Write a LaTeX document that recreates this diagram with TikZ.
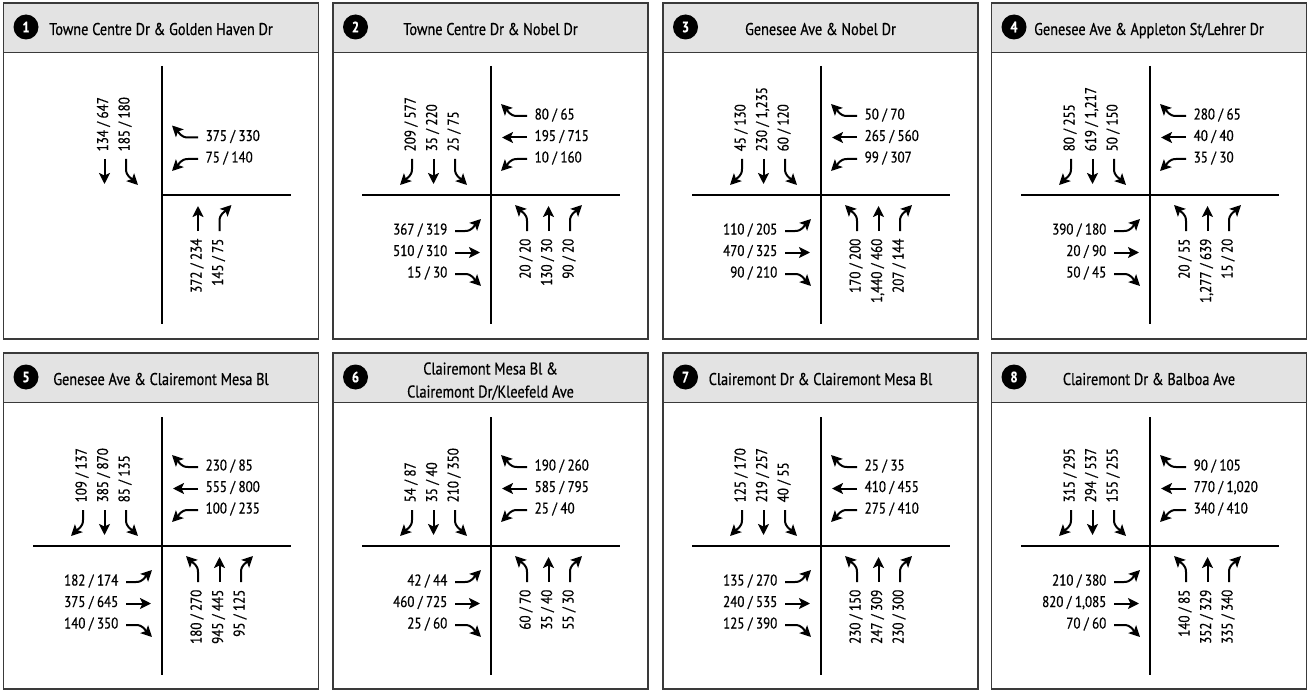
\documentclass[tikz,border=0pt]{standalone}
\usepackage{fontspec}
\setmainfont{PT Sans}[FakeStretch=0.84,FakeBold=0.6]
\usetikzlibrary{arrows.meta}
\definecolor{hdrgray}{HTML}{E3E3E3}
\definecolor{frmgray}{HTML}{3A3A3A}
\tikzset{
  hdr/.style={fill=hdrgray},
  frm/.style={draw=frmgray,line width=1.2pt},
  road/.style={draw=black,line width=1.3pt},
  arr/.style={draw=black,line width=2pt,-{Stealth[length=11pt,width=11pt,inset=2.5pt]}},
  lbl/.style={font=\fontsize{15.5}{16}\selectfont,inner sep=0pt,text height=0.7em,text depth=0pt},
  ttl/.style={font=\fontsize{17}{20}\selectfont,inner sep=0pt,anchor=base},
  badge/.style={circle,fill=black,text=white,inner sep=0pt,minimum size=25pt,font=\fontsize{15}{15}\bfseries\selectfont}
}
% movements in the southbound frame, rotated for other approaches
\newcommand\mT[2]{\draw[arr,rotate=#1] (-#2,36) -- (-#2,11);}
\newcommand\mR[2]{\draw[arr,rotate=#1] (-#2,36) -- (-#2,26) .. controls (-#2,19) and (-#2-5,17) .. (-#2-12,10);}
\newcommand\mL[2]{\draw[arr,rotate=#1] (-#2,36) -- (-#2,26) .. controls (-#2,19) and (-#2+5,17) .. (-#2+12,10);}
% labels: #1 index, #2 slot, #3 text
\newcommand\lblS[3]{\node[lbl,rotate=90,anchor=west] (\pn S#1) at (-#2,43.5) {#3};}
\newcommand\lblN[3]{\node[lbl,rotate=90,anchor=east] (\pn N#1) at (#2,-43.5) {#3};}
\newcommand\lblE[3]{\node[lbl,anchor=east] (\pn E#1) at (-43.5,-#2) {#3};}
\newcommand\lblW[3]{\node[lbl,anchor=west] (\pn W#1) at (43.5,#2) {#3};}
% approaches: S and W take (right, through, left); E and N take (left, through, right)
\newcommand\apS[3]{\mR{0}{79}\mT{0}{57.5}\mL{0}{36}\lblS{3}{79}{#1}\lblS{2}{57.5}{#2}\lblS{1}{36}{#3}}
\newcommand\apW[3]{\mR{-90}{79}\mT{-90}{57.5}\mL{-90}{36}\lblW{3}{79}{#1}\lblW{2}{57.5}{#2}\lblW{1}{36}{#3}}
\newcommand\apE[3]{\mL{90}{36}\mT{90}{57.5}\mR{90}{79}\lblE{1}{36}{#1}\lblE{2}{57.5}{#2}\lblE{3}{79}{#3}}
\newcommand\apN[3]{\mL{180}{36}\mT{180}{57.5}\mR{180}{79}\lblN{1}{36}{#1}\lblN{2}{57.5}{#2}\lblN{3}{79}{#3}}
% panel frame: #1 name, #2 left, #3 top, #4 title, #5 number
\newcommand\pframe[5]{%
  \path[hdr] (#2,-#3) rectangle ++(315,-49.5);
  \draw[frm] (#2,-#3-49.5) -- ++(315,0);
  \draw[frm] (#2,-#3) rectangle ++(315,-336);
  \node[badge] (#1b) at (#2+22.5,-#3-24) {#5};
  \node[ttl] (#1t) at (#2+157.5,-#3-32) {#4};
}
\newcommand\cross{\draw[road] (0,129) -- (0,-129); \draw[road] (-129,0) -- (129,0);}
\begin{document}
\begin{tikzpicture}[x=1pt,y=1pt]
\useasboundingbox (0,0) rectangle (1307,-698);
\fill[white] (0,0) rectangle (1307,-698);

% ---------- row 1 ----------
\pframe{p1}{3.5}{3}{Towne Centre Dr \& Golden Haven Dr}{1}
\pframe{p2}{333}{3}{Towne Centre Dr \& Nobel Dr}{2}
\pframe{p3}{663}{3}{Genesee Ave \& Nobel Dr}{3}
\pframe{p4}{991.5}{3}{Genesee Ave \& Appleton St/Lehrer Dr}{4}
% ---------- row 2 ----------
\pframe{p5}{3.5}{353}{Genesee Ave \& Clairemont Mesa Bl}{5}
\pframe{p6}{333}{353}{}{6}
\node[ttl] (p6ta) at (333+157.5,-353-21.5) {Clairemont Mesa Bl \&};
\node[ttl] (p6tb) at (333+157.5,-353-44.5) {Clairemont Dr/Kleefeld Ave};
\pframe{p7}{663}{353}{Clairemont Dr \& Clairemont Mesa Bl}{7}
\pframe{p8}{991.5}{353}{Clairemont Dr \& Balboa Ave}{8}

% ---------- 1 ----------
\begin{scope}[shift={(162,-195)}]\def\pn{p1}
  \draw[road] (0,129) -- (0,-129); \draw[road] (0,0) -- (129,0);
  \mT{0}{57.5}\mL{0}{36}\lblS{2}{57.5}{134 / 647}\lblS{1}{36}{185 / 180}
  \mR{-90}{57.5}\mL{-90}{36}\lblW{2}{57.5}{375 / 330}\lblW{1}{36}{75 / 140}
  \mT{180}{36}\mR{180}{57.5}\lblN{1}{36}{372 / 234}\lblN{2}{57.5}{145 / 75}
\end{scope}
% ---------- 2 ----------
\begin{scope}[shift={(491,-195)}]\def\pn{p2}
  \cross
  \apS{209 / 577}{35 / 220}{25 / 75}
  \apW{80 / 65}{195 / 715}{10 / 160}
  \apE{367 / 319}{510 / 310}{15 / 30}
  \apN{20 / 20}{130 / 30}{90 / 20}
\end{scope}
% ---------- 3 ----------
\begin{scope}[shift={(821,-195)}]\def\pn{p3}
  \cross
  \apS{45 / 130}{230 / 1,235}{60 / 120}
  \apW{50 / 70}{265 / 560}{99 / 307}
  \apE{110 / 205}{470 / 325}{90 / 210}
  \apN{170 / 200}{1,440 / 460}{207 / 144}
\end{scope}
% ---------- 4 ----------
\begin{scope}[shift={(1150,-195)}]\def\pn{p4}
  \cross
  \apS{80 / 255}{619 / 1,217}{50 / 150}
  \apW{280 / 65}{40 / 40}{35 / 30}
  \apE{390 / 180}{20 / 90}{50 / 45}
  \apN{20 / 55}{1,277 / 639}{15 / 20}
\end{scope}
% ---------- 5 ----------
\begin{scope}[shift={(162,-546)}]\def\pn{p5}
  \cross
  \apS{109 / 137}{385 / 870}{85 / 135}
  \apW{230 / 85}{555 / 800}{100 / 235}
  \apE{182 / 174}{375 / 645}{140 / 350}
  \apN{180 / 270}{945 / 445}{95 / 125}
\end{scope}
% ---------- 6 ----------
\begin{scope}[shift={(491,-546)}]\def\pn{p6}
  \cross
  \apS{54 / 87}{35 / 40}{210 / 350}
  \apW{190 / 260}{585 / 795}{25 / 40}
  \apE{42 / 44}{460 / 725}{25 / 60}
  \apN{60 / 70}{35 / 40}{55 / 30}
\end{scope}
% ---------- 7 ----------
\begin{scope}[shift={(821,-546)}]\def\pn{p7}
  \cross
  \apS{125 / 170}{219 / 257}{40 / 55}
  \apW{25 / 35}{410 / 455}{275 / 410}
  \apE{135 / 270}{240 / 535}{125 / 390}
  \apN{230 / 150}{247 / 309}{230 / 300}
\end{scope}
% ---------- 8 ----------
\begin{scope}[shift={(1150,-546)}]\def\pn{p8}
  \cross
  \apS{315 / 295}{294 / 537}{155 / 255}
  \apW{90 / 105}{770 / 1,020}{340 / 410}
  \apE{210 / 380}{820 / 1,085}{70 / 60}
  \apN{140 / 85}{352 / 329}{335 / 340}
\end{scope}
\end{tikzpicture}
\end{document}
